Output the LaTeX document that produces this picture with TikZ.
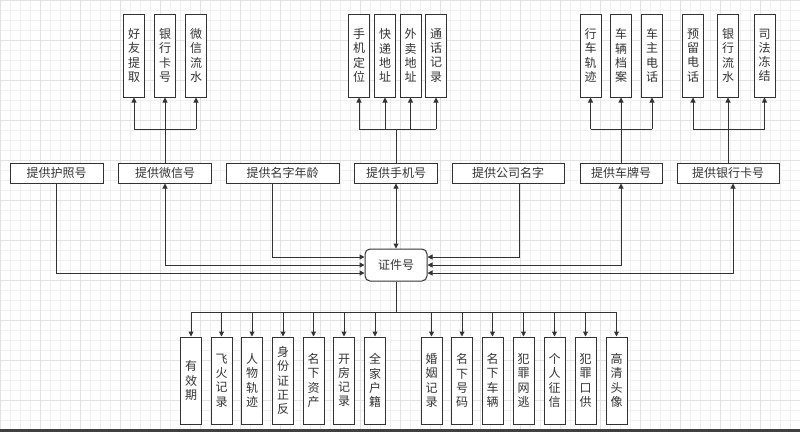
\documentclass[tikz,border=0pt]{standalone}
\usepackage{fontspec}
\newfontfamily\cjk{Noto Sans CJK SC}
\usepackage{tikz}
\usetikzlibrary{arrows.meta,positioning,calc}
\definecolor{lineaGris}{HTML}{333333}
\definecolor{rejillaGris}{HTML}{F0F0F0}
\definecolor{rejillaFuerte}{HTML}{E2E2E2}
\tikzset{
  caja/.style={draw=lineaGris, line width=1pt, fill=white, text=lineaGris, font=\cjk\fontsize{12}{14}\selectfont, minimum height=20pt, minimum width=#1, inner sep=0pt},
  hoja/.style={draw=lineaGris, line width=1pt, fill=white, text=lineaGris, align=center, text width=14pt, font=\cjk\fontsize{12}{14.2}\selectfont, minimum width=21pt, minimum height=#1, inner sep=0pt},
  nucleo/.style={draw=lineaGris, line width=1pt, fill=white, text=lineaGris, rounded corners=5pt, font=\cjk\fontsize{12}{14}\selectfont, minimum width=62pt, minimum height=32pt, inner sep=0pt},
  linea/.style={line width=1pt, draw=lineaGris},
  arrflow/.style={-{Triangle[length=5pt,width=5pt]}, line width=1pt, draw=lineaGris},
  dosflow/.style={{Triangle[length=5pt,width=5pt]}-{Triangle[length=5pt,width=5pt]}, line width=1pt, draw=lineaGris},
  rejilla/.style={draw=rejillaGris, line width=0.5pt},
}
\begin{document}
\begin{tikzpicture}[x=1pt, y=-1pt]
\useasboundingbox (0,0) rectangle (800,432);
% fondo con rejilla
\fill[white] (0,0) rectangle (800,432);
\foreach \gx in {0,10,...,800} \draw[rejilla] (\gx,0) -- (\gx,432);
\foreach \gy in {0,10,...,430} \draw[rejilla] (0,\gy) -- (800,\gy);
\foreach \gx in {0,40,...,800} \draw[rejilla, draw=rejillaFuerte] (\gx,0) -- (\gx,432);
\foreach \gy in {0,40,...,430} \draw[rejilla, draw=rejillaFuerte] (0,\gy) -- (800,\gy);
\fill[black!75] (0,429) rectangle (800,432);

% nodo central
\node[nucleo] (zjh) at (396,265) {证件号};

% fila media
\node[caja=93pt] (huzhao) at (56.5,173) {提供护照号};
\node[caja=93pt] (weixin) at (165,173) {提供微信号};
\node[caja=113pt] (mingzi) at (282.5,173) {提供名字年龄};
\node[caja=83pt] (shouji) at (396,173) {提供手机号};
\node[caja=112pt] (gongsi) at (508,173) {提供公司名字};
\node[caja=82pt] (chepai) at (621,173) {提供车牌号};
\node[caja=102pt] (yinhang) at (728,173) {提供银行卡号};

% hojas de arriba
\foreach \x/\t [count=\i] in {134/好\\友\\提\\取, 165/银\\行\\卡\\号, 196/微\\信\\流\\水}
  \node[hoja=83pt] (w\i) at (\x,55.5) {\t};
\foreach \x/\t [count=\i] in {359/手\\机\\定\\位, 385/快\\递\\地\\址, 410.5/外\\卖\\地\\址, 436/通\\话\\记\\录}
  \node[hoja=83pt] (s\i) at (\x,55.5) {\t};
\foreach \x/\t [count=\i] in {590.5/行\\车\\轨\\迹, 621/车\\辆\\档\\案, 652/车\\主\\电\\话}
  \node[hoja=83pt] (c\i) at (\x,55.5) {\t};
\foreach \x/\t [count=\i] in {693/预\\留\\电\\话, 728/银\\行\\流\\水, 764.5/司\\法\\冻\\结}
  \node[hoja=83pt] (y\i) at (\x,55.5) {\t};

% hojas de abajo
\foreach \x/\t [count=\i] in {191/有\\效\\期, 221.5/飞\\火\\记\\录, 252/人\\物\\轨\\迹, 283/身\\份\\证\\正\\反, 313.5/名\\下\\资\\产, 344/开\\房\\记\\录, 375/全\\家\\户\\籍, 431.5/婚\\姻\\记\\录, 462/名\\下\\号\\码, 492.5/名\\下\\车\\辆, 523.5/犯\\罪\\网\\逃, 554.5/个\\人\\征\\信, 585.5/犯\\罪\\口\\供, 616.5/高\\清\\头\\像}
  \node[hoja=87pt] (b\i) at (\x,380.5) {\t};

% ramas de arriba
\coordinate (wbar) at (165,129);
\coordinate (sbar) at (396,129);
\coordinate (cbar) at (621,129);
\coordinate (ybar) at (728,129);
\draw[linea] (w1.south |- wbar) -- (w3.south |- wbar);
\draw[linea] (s1.south |- sbar) -- (s4.south |- sbar);
\draw[linea] (c1.south |- cbar) -- (c3.south |- cbar);
\draw[linea] (y1.south |- ybar) -- (y3.south |- ybar);
\foreach \i in {1,2,3} \draw[arrflow] (w\i.south |- wbar) -- (w\i.south);
\foreach \i in {1,...,4} \draw[arrflow] (s\i.south |- sbar) -- (s\i.south);
\foreach \i in {1,2,3} \draw[arrflow] (c\i.south |- cbar) -- (c\i.south);
\foreach \i in {1,2,3} \draw[arrflow] (y\i.south |- ybar) -- (y\i.south);
\draw[linea] (weixin.north) -- (wbar);
\draw[linea] (shouji.north) -- (sbar);
\draw[linea] (chepai.north) -- (cbar);
\draw[linea] (yinhang.north) -- (ybar);

% hacia el nodo central
\draw[arrflow] (huzhao.south) |- ([yshift=-8pt]zjh.west);
\draw[dosflow] (weixin.south) |- (zjh.west);
\draw[arrflow] ([xshift=-10.5pt]mingzi.south) |- ([yshift=8pt]zjh.west);
\draw[dosflow] (shouji.south) -- (zjh.north);
\draw[arrflow] ([xshift=11pt]gongsi.south) |- ([yshift=8pt]zjh.east);
\draw[dosflow] (chepai.south) |- (zjh.east);
\draw[dosflow] ([xshift=5pt]yinhang.south) |- ([yshift=-8pt]zjh.east);

% ramas de abajo
\coordinate (bbar) at (396,312);
\draw[linea] (zjh.south) -- (bbar);
\draw[linea] (b1.north |- bbar) -- (b14.north |- bbar);
\foreach \i in {1,...,14} \draw[arrflow] (b\i.north |- bbar) -- (b\i.north);
\end{tikzpicture}
\end{document}
